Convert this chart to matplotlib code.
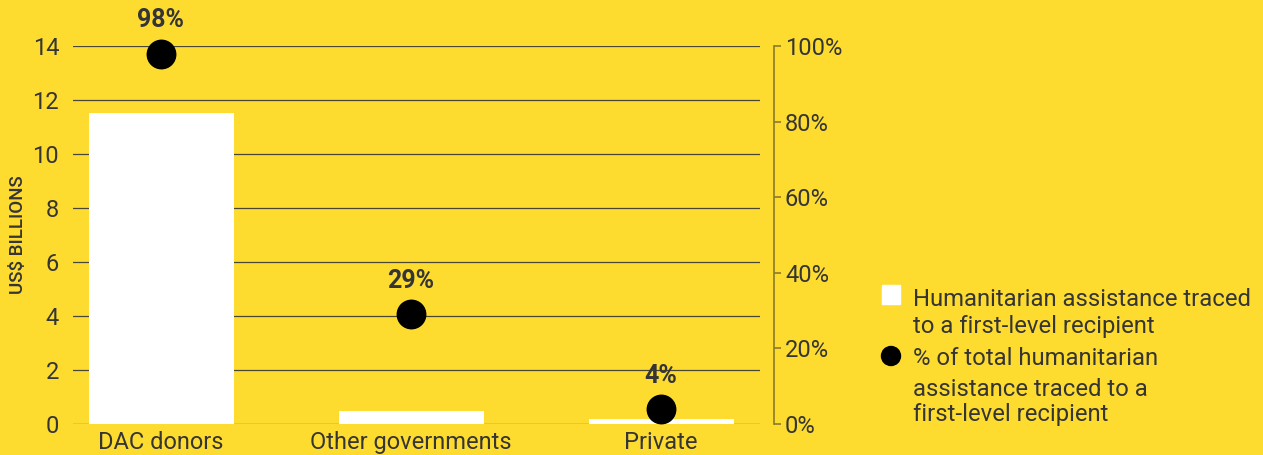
import matplotlib
matplotlib.use("Agg")
import matplotlib.pyplot as plt
from matplotlib.ticker import FuncFormatter

categories = ["DAC donors", "Other governments", "Private"]
traced_bn = [11.52, 0.48, 0.17]
pct_traced = [98, 29, 4]
pct_labels = ["98%", "29%", "4%"]
left_ticks = [0, 2, 4, 6, 8, 10, 12, 14]
right_ticks = [0, 20, 40, 60, 80, 100]

BG = "#FEDC2F"
TXT = "#353535"
GRID = "#4a4636"
SPINE2 = "#8c7a2a"

plt.rcParams['font.family'] = ['Roboto', 'DejaVu Sans']

W, H = 1263, 455
fig = plt.figure(figsize=(W / 100, H / 100), dpi=100)
fig.patch.set_facecolor(BG)

l, r, t, b = 73, 760, 46, 424
ax = fig.add_axes([l / W, 1 - b / H, (r - l) / W, (b - t) / H])
ax.set_facecolor("none")
x = list(range(len(categories)))
ax.bar(x, traced_bn, width=0.58, color="white", zorder=2)
ax.set_ylim(0, 14)
ax.set_xlim(-0.352, 2.396)
ax.set_yticks(left_ticks)
ax.yaxis.grid(True, color=GRID, linewidth=0.9, zorder=0)
ax.set_axisbelow(True)
for s in ax.spines.values():
    s.set_visible(False)
ax.tick_params(axis="y", length=0, pad=10, labelsize=17, labelcolor=TXT)
ax.set_xticks(x)
ax.set_xticklabels(categories)
ax.tick_params(axis="x", length=0, pad=5, labelsize=17, labelcolor=TXT)
ax.set_ylabel("US$ BILLIONS", fontsize=13.5, fontweight="medium", color=TXT)
ax.yaxis.set_label_coords((27 - l) / (r - l), 0.5)

ax2 = ax.twinx()
ax2.set_ylim(0, 100)
ax2.set_yticks(right_ticks)
ax2.yaxis.set_major_formatter(FuncFormatter(lambda v, p: f"{int(v)}%"))
for k, s in ax2.spines.items():
    s.set_visible(k == "right")
ax2.spines["right"].set_position(("outward", 10))
ax2.spines["right"].set_color(SPINE2)
ax2.spines["right"].set_linewidth(1.2)
ax2.tick_params(axis="y", length=5, width=1.2, color=SPINE2, pad=3, labelsize=17, labelcolor=TXT)
ax2.scatter(x, pct_traced, s=420, color="black", zorder=5, clip_on=False)
for xi, v, lab in zip(x, pct_traced, pct_labels):
    ax2.annotate(lab, (xi, v), xytext=(0, 24), textcoords="offset points",
                 ha="center", va="center", fontsize=18, fontweight="bold",
                 color=TXT, annotation_clip=False)

# legend
def fy(py):
    return 1 - py / H

fig.patches.append(plt.Rectangle((882 / W, fy(304)), 18 / W, 19 / H,
                                 transform=fig.transFigure, color="white"))
fig.add_artist(matplotlib.patches.Ellipse((891 / W, fy(356)), 19 / W, 19 / H,
                                          transform=fig.transFigure, color="black"))
legend_lines = [
    ("Humanitarian assistance traced", 297),
    ("to a first-level recipient", 324),
    ("% of total humanitarian", 356),
    ("assistance traced to a", 387),
    ("first-level recipient", 412),
]
for txt, py in legend_lines:
    fig.text(913 / W, fy(py), txt, ha="left", va="center_baseline", fontsize=17.2, color=TXT)

fig.savefig("out.png", dpi=100, facecolor=BG)
